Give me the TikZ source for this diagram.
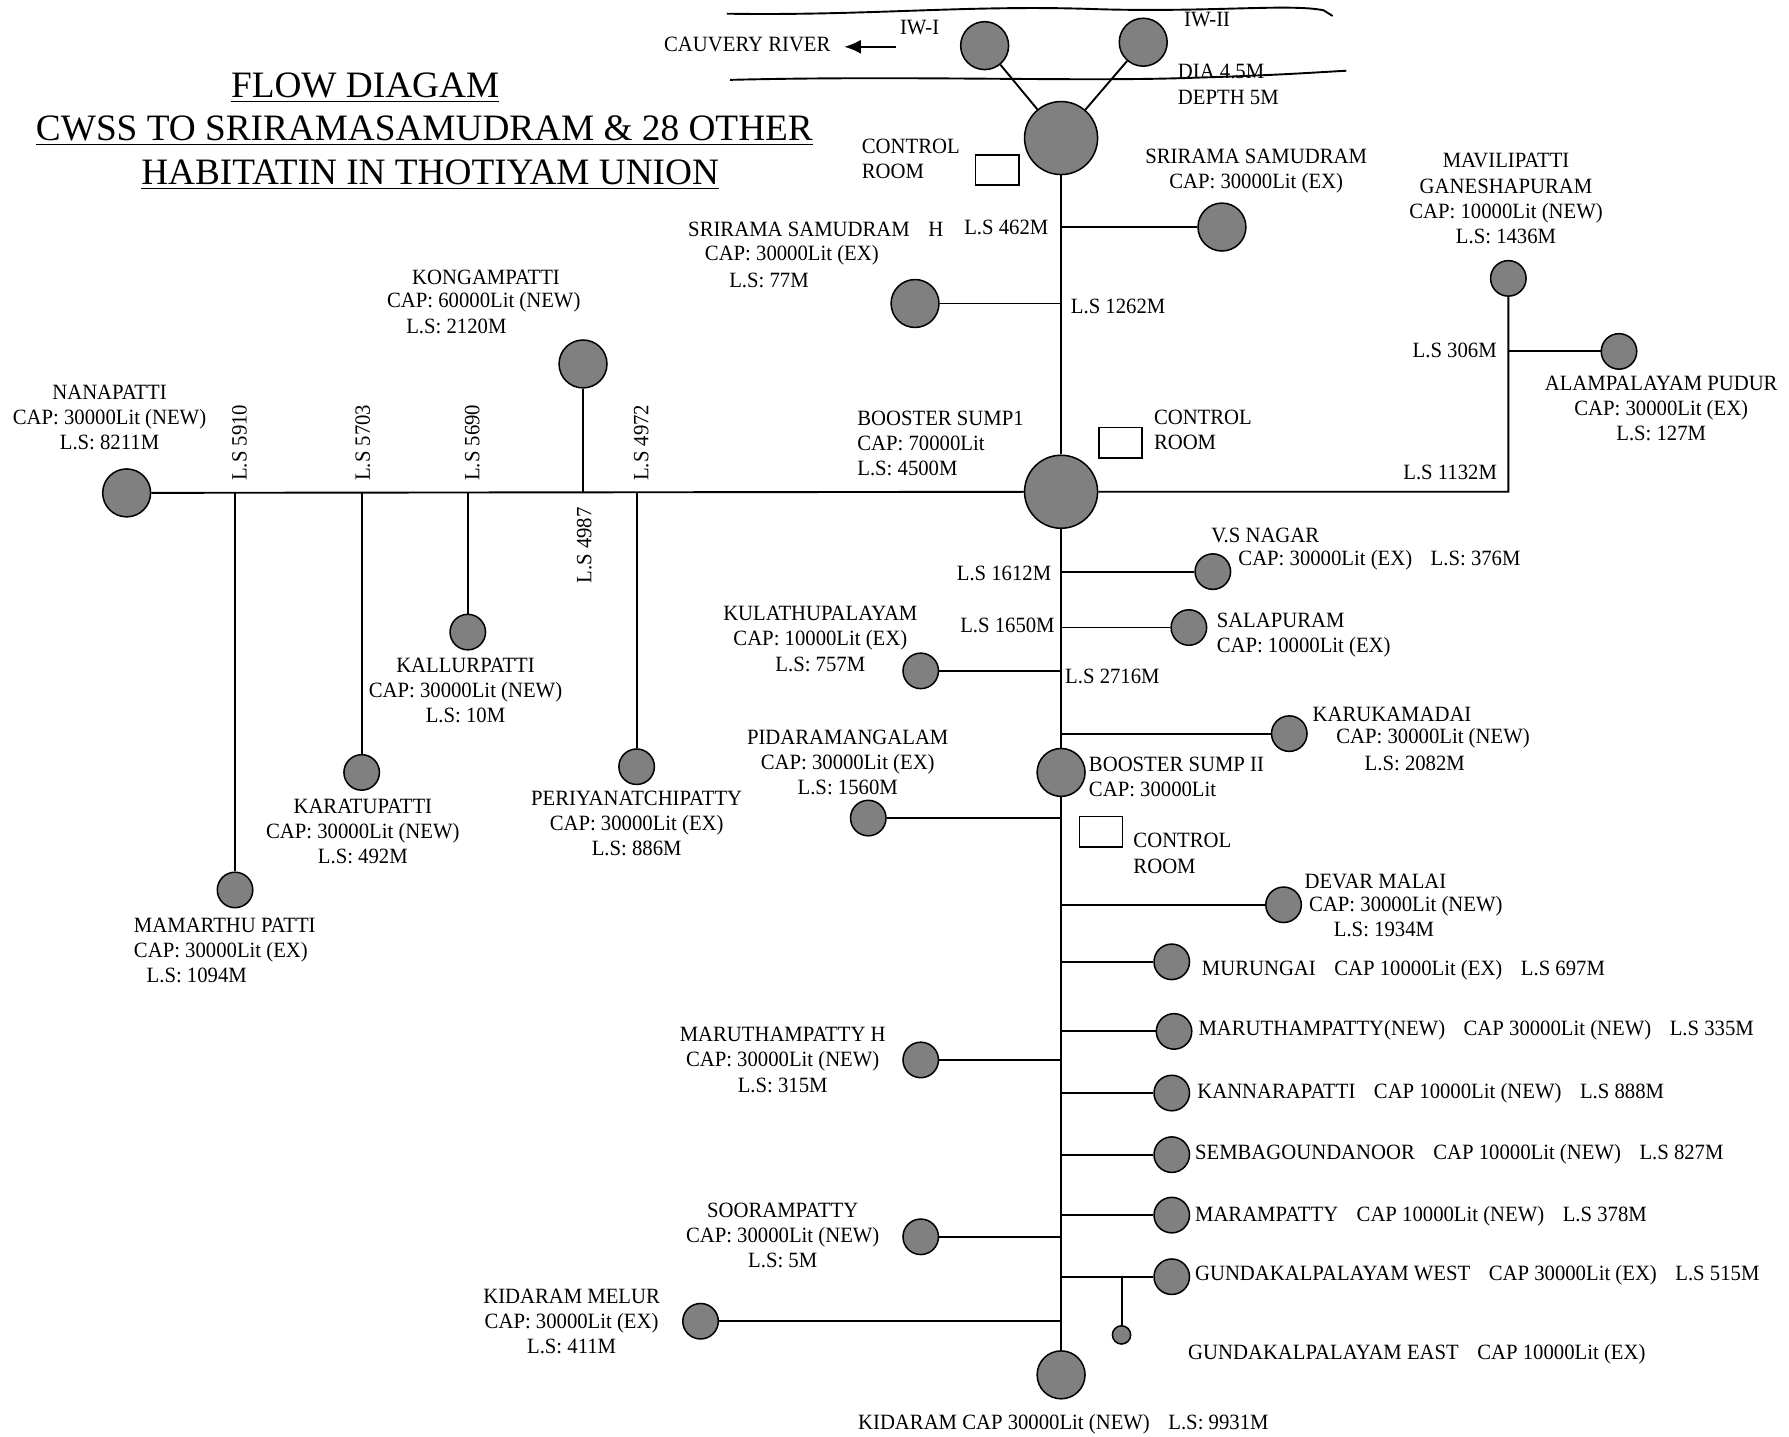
\documentclass[tikz,border=0pt]{standalone}
\usepackage{fontspec}
\setmainfont{Liberation Serif}
\newfontfamily\bodyfamily{Liberation Serif}[FakeStretch=0.95]
\usepackage{xcolor}
\usetikzlibrary{arrows.meta}

\definecolor{tankgray}{RGB}{128,128,128}
\newcommand{\bodyfont}{\bodyfamily\fontsize{8.6}{9.9}\selectfont}
\newcommand{\titlefont}{\fontsize{14.7}{17}\selectfont}
\newcommand{\gap}{\hspace{0.85em}}

\begin{document}
\begin{tikzpicture}[x=0.45pt, y=-0.45pt,
    tank/.style={draw, circle, fill=tankgray, line width=0.6pt, inner sep=0pt, minimum size=14pt},
    big/.style={tank, minimum size=18.9pt},
    sump/.style={tank, minimum size=28.8pt},
    tiny/.style={tank, minimum size=7.2pt},
    room/.style={draw, line width=0.6pt, minimum width=17.1pt, minimum height=12pt, inner sep=0pt},
    pipe/.style={line width=0.75pt},
    lbl/.style={font=\bodyfont, align=center, inner sep=0pt},
    lbll/.style={lbl, align=left, anchor=west},
    lside/.style={lbl, rotate=90},
    heading/.style={font=\titlefont, inner sep=0pt}]
    \useasboundingbox (0,0) rectangle (1568,1259);

    % title
    \node[heading] (title1) at (320,77) {\underline{FLOW DIAGAM}};
    \node[heading] (title2) at (372,115) {\underline{CWSS TO SRIRAMASAMUDRAM \& 28 OTHER}};
    \node[heading] (title3) at (377,153) {\underline{HABITATIN IN THOTIYAM UNION}};

    % river
    \draw[pipe] (637,12) .. controls (760,14) and (850,4) .. (960,8)
        .. controls (1060,11) and (1130,3) .. (1160,9) -- (1168,14);
    \draw[pipe] (640,70) .. controls (800,66) and (950,72) .. (1050,68)
        .. controls (1120,66) and (1160,63) .. (1180,62);
    \node[lbl] (cauvery) at (655,39) {CAUVERY RIVER};
    \coordinate (flowtail) at (785,41);
    \coordinate (flowtip) at (740,41);
    \draw[pipe, -{Latex[length=6.5pt, width=5.5pt]}] (flowtail) -- (flowtip);

    % tanks
    \node[big] (iw1) at (863,40) {};
    \node[big] (iw2) at (1002,37) {};
    \node[sump] (head) at (930,121) {};
    \node[room] (room1) at (874,149) {};
    \node[big] (srs) at (1071,199) {};
    \node[big] (srsh) at (802,266) {};
    \node[sump] (bs1) at (930,431) {};
    \node[room] (room2) at (982,388) {};
    \node[big] (nana) at (111,432) {};
    \node[big] (kong) at (511,319) {};
    \node[tank] (mamar) at (206,780) {};
    \node[tank] (karat) at (317,677) {};
    \node[tank] (kallur) at (410,554) {};
    \node[tank] (periya) at (558,672) {};
    \node[tank] (mavili) at (1322,244) {};
    \node[tank] (alam) at (1419,308) {};
    \coordinate (bend) at (1322,431);
    \node[tank] (vsn) at (1063,501) {};
    \node[tank] (sala) at (1042,550) {};
    \node[tank] (kula) at (807,588) {};
    \node[tank] (karuk) at (1130,643) {};
    \node[big] (bs2) at (930,677) {};
    \node[tank] (pidar) at (761,717) {};
    \node[room] (room3) at (965,729) {};
    \node[tank] (devar) at (1125,793) {};
    \node[tank] (murun) at (1027,843) {};
    \node[tank] (maru) at (1029,904) {};
    \node[tank] (maruh) at (807,929) {};
    \node[tank] (kanna) at (1027,958) {};
    \node[tank] (semba) at (1027,1012) {};
    \node[tank] (maram) at (1027,1065) {};
    \node[tank] (soora) at (807,1084) {};
    \node[tank] (gkw) at (1027,1119) {};
    \node[tiny] (gke) at (983,1170) {};
    \node[tank] (kmelur) at (614,1158) {};
    \node[big] (kida) at (930,1205) {};

    % pipes
    \draw[pipe] (iw1) -- (head);
    \draw[pipe] (iw2) -- (head);
    \draw[pipe] (head) -- (bs1) -- (bs2) -- (kida);
    \draw[pipe] (head |- srs) -- (srs);
    \draw[pipe] (head |- srsh) -- (srsh);
    \draw[pipe] (nana) -- (bs1) -- (bend) -- (mavili);
    \draw[pipe] (mavili |- alam) -- (alam);
    \draw[pipe] (mamar |- nana) -- (mamar);
    \draw[pipe] (karat |- nana) -- (karat);
    \draw[pipe] (kallur |- nana) -- (kallur);
    \draw[pipe] (kong |- nana) -- (kong);
    \draw[pipe] (periya |- nana) -- (periya);
    \draw[pipe] (bs1 |- vsn) -- (vsn);
    \draw[pipe] (bs1 |- sala) -- (sala);
    \draw[pipe] (bs1 |- kula) -- (kula);
    \draw[pipe] (bs1 |- karuk) -- (karuk);
    \draw[pipe] (bs1 |- pidar) -- (pidar);
    \draw[pipe] (bs1 |- devar) -- (devar);
    \draw[pipe] (bs1 |- murun) -- (murun);
    \draw[pipe] (bs1 |- maru) -- (maru);
    \draw[pipe] (bs1 |- maruh) -- (maruh);
    \draw[pipe] (bs1 |- kanna) -- (kanna);
    \draw[pipe] (bs1 |- semba) -- (semba);
    \draw[pipe] (bs1 |- maram) -- (maram);
    \draw[pipe] (bs1 |- soora) -- (soora);
    \draw[pipe] (bs1 |- gkw) -- (gkw);
    \draw[pipe] (gke |- gkw) -- (gke);
    \draw[pipe] (bs1 |- kmelur) -- (kmelur);

    % labels
    \node[lbl] (iw1-t) at (806,24) {IW-I};
    \node[lbl] (iw2-t) at (1058,17) {IW-II};
    \node[lbll] (dia-t) at (1032,74) {DIA 4.5M\\DEPTH 5M};
    \node[lbll] (room1-t) at (755,139) {CONTROL\\ROOM};
    \node[lbl] (srs-t) at (1101,150) {SRIRAMA SAMUDRAM\\CAP: 30000Lit (EX)};
    \node[lbl] (ls462) at (882,199) {L.S 462M};
    \node[lbl] (srsh-a) at (715,201) {SRIRAMA SAMUDRAM\gap H};
    \node[lbl] (srsh-b) at (694,224) {CAP: 30000Lit (EX)};
    \node[lbl] (srsh-c) at (674,246) {L.S: 77M};
    \node[lbl] (ls1262) at (980,269) {L.S 1262M};
    \node[lbll] (bs1-t) at (751,389) {BOOSTER SUMP1\\CAP: 70000Lit\\L.S: 4500M};
    \node[lbll] (room2-t) at (1011,377) {CONTROL\\ROOM};
    \node[lbl] (kong-a) at (426,243) {KONGAMPATTI};
    \node[lbl] (kong-b) at (424,265) {CAP: 60000Lit (NEW)};
    \node[lbl] (kong-c) at (400,286) {L.S: 2120M};
    \node[lbl] (nana-t) at (96,366) {NANAPATTI\\CAP: 30000Lit (NEW)\\L.S: 8211M};
    \node[lside] (ls5910) at (210,388) {L.S 5910};
    \node[lside] (ls5703) at (318,388) {L.S 5703};
    \node[lside] (ls5690) at (414,388) {L.S 5690};
    \node[lside] (ls4972) at (562,388) {L.S 4972};
    \node[lside] (ls4987) at (512,478) {L.S 4987};
    \node[lbll] (mamar-t) at (117,833) {MAMARTHU PATTI\\CAP: 30000Lit (EX)\\\hspace*{5pt}L.S: 1094M};
    \node[lbl] (karat-t) at (318,729) {KARATUPATTI\\CAP: 30000Lit (NEW)\\L.S: 492M};
    \node[lbl] (kallur-t) at (408,605) {KALLURPATTI\\CAP: 30000Lit (NEW)\\L.S: 10M};
    \node[lbl] (periya-t) at (558,722) {PERIYANATCHIPATTY\\CAP: 30000Lit (EX)\\L.S: 886M};
    \node[lbl] (mavili-t) at (1320,174) {MAVILIPATTI\\GANESHAPURAM\\CAP: 10000Lit (NEW)\\L.S: 1436M};
    \node[lbl] (alam-t) at (1456,358) {ALAMPALAYAM PUDUR\\CAP: 30000Lit (EX)\\L.S: 127M};
    \node[lbl] (ls306) at (1275,307) {L.S 306M};
    \node[lbl] (ls1132) at (1271,414) {L.S 1132M};
    \node[lbl] (vsn-a) at (1109,469) {V.S NAGAR};
    \node[lbll] (vsn-b) at (1085,491) {CAP: 30000Lit (EX)\gap L.S: 376M};
    \node[lbl] (ls1612) at (880,503) {L.S 1612M};
    \node[lbll] (sala-t) at (1066,557) {SALAPURAM\\CAP: 10000Lit (EX)};
    \node[lbl] (ls1650) at (883,548) {L.S 1650M};
    \node[lbl] (kula-t) at (719,560) {KULATHUPALAYAM\\CAP: 10000Lit (EX)\\L.S: 757M};
    \node[lbl] (ls2716) at (975,593) {L.S 2716M};
    \node[lbll] (karuk-a) at (1150,626) {KARUKAMADAI};
    \node[lbl] (karuk-b) at (1256,647) {CAP: 30000Lit (NEW)};
    \node[lbl] (karuk-c) at (1240,669) {L.S: 2082M};
    \node[lbll] (bs2-t) at (954,681) {BOOSTER SUMP II\\CAP: 30000Lit};
    \node[lbl] (pidar-t) at (743,668) {PIDARAMANGALAM\\CAP: 30000Lit (EX)\\L.S: 1560M};
    \node[lbll] (room3-t) at (993,748) {CONTROL\\ROOM};
    \node[lbll] (devar-a) at (1143,773) {DEVAR MALAI};
    \node[lbll] (devar-b) at (1147,794) {CAP: 30000Lit (NEW)};
    \node[lbl] (devar-c) at (1213,815) {L.S: 1934M};
    \node[lbll] (murun-t) at (1053,850) {MURUNGAI\gap CAP 10000Lit (EX)\gap L.S 697M};
    \node[lbll] (maru-t) at (1050,903) {MARUTHAMPATTY(NEW)\gap CAP 30000Lit (NEW)\gap L.S 335M};
    \node[lbl] (maruh-t) at (686,929) {MARUTHAMPATTY H\\CAP: 30000Lit (NEW)\\L.S: 315M};
    \node[lbll] (kanna-t) at (1049,958) {KANNARAPATTI\gap CAP 10000Lit (NEW)\gap L.S 888M};
    \node[lbll] (semba-t) at (1047,1012) {SEMBAGOUNDANOOR\gap CAP 10000Lit (NEW)\gap L.S 827M};
    \node[lbll] (maram-t) at (1047,1066) {MARAMPATTY\gap CAP 10000Lit (NEW)\gap L.S 378M};
    \node[lbl] (soora-t) at (686,1083) {SOORAMPATTY\\CAP: 30000Lit (NEW)\\L.S: 5M};
    \node[lbll] (gkw-t) at (1047,1118) {GUNDAKALPALAYAM WEST\gap CAP 30000Lit (EX)\gap L.S 515M};
    \node[lbll] (gke-t) at (1041,1187) {GUNDAKALPALAYAM EAST\gap CAP 10000Lit (EX)};
    \node[lbl] (kmelur-t) at (501,1158) {KIDARAM MELUR\\CAP: 30000Lit (EX)\\L.S: 411M};
    \node[lbl] (kida-t) at (932,1248) {KIDARAM CAP 30000Lit (NEW)\gap L.S: 9931M};
\end{tikzpicture}
\end{document}
